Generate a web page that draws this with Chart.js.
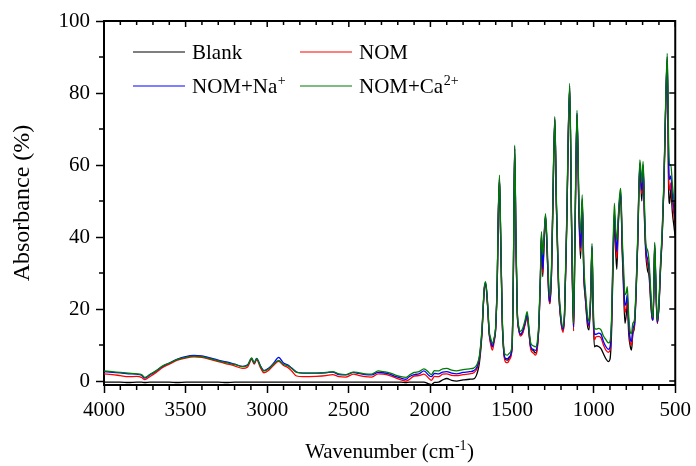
<!DOCTYPE html>
<html>
<head>
<meta charset="utf-8">
<title>FTIR absorbance</title>
<script src="https://cdn.jsdelivr.net/npm/chart.js@4.4.1/dist/chart.umd.min.js"></script>
<style>
  html, body { margin: 0; padding: 0; background: #ffffff; }
  #ftir { display: block; }
</style>
</head>
<body>
<canvas id="ftir" width="696" height="466"></canvas>
<script>
// wavenumber axis (cm-1)
const wavenumbers = [
  4000, 3950, 3900, 3850, 3800, 3770, 3750, 3720, 3680, 3640,
  3600, 3550, 3500, 3450, 3400, 3350, 3300, 3250, 3200, 3150,
  3120, 3095, 3080, 3065, 3040, 3020, 2990, 2960, 2930, 2900,
  2875, 2850, 2820, 2780, 2700, 2640, 2600, 2560, 2520, 2470,
  2440, 2400, 2360, 2320, 2290, 2250, 2210, 2180, 2150, 2130,
  2100, 2070, 2040, 2010, 1995, 1975, 1950, 1925, 1900, 1870,
  1840, 1800, 1760, 1735, 1715, 1700, 1685, 1670, 1662, 1650,
  1640, 1630, 1620, 1610, 1600, 1590, 1585, 1577, 1570, 1560,
  1550, 1540, 1528, 1515, 1500, 1492, 1484, 1476, 1468, 1458,
  1448, 1435, 1420, 1407, 1395, 1385, 1370, 1356, 1345, 1335,
  1326, 1320, 1312, 1304, 1295, 1285, 1275, 1268, 1258, 1250,
  1238, 1228, 1215, 1200, 1188, 1178, 1165, 1147, 1135, 1123,
  1115, 1102, 1090, 1080, 1070, 1060, 1050, 1038, 1028, 1018,
  1010, 1003, 995, 985, 970, 955, 940, 925, 910, 900,
  890, 882, 873, 865, 858, 850, 840, 834, 825, 818,
  808, 800, 794, 785, 775, 768, 760, 750, 740, 730,
  717, 710, 705, 697, 688, 680, 670, 660, 650, 640,
  636, 630, 626, 620, 610, 600, 590, 580, 570, 560,
  549, 540, 534, 527, 518, 508, 500
];

const blank = [
  -0.3, -0.3, -0.3, -0.4, -0.3, -0.3, -0.4, -0.3, -0.3, -0.3,
  -0.3, -0.4, -0.3, -0.3, -0.3, -0.3, -0.3, -0.4, -0.3, -0.3,
  -0.3, -0.3, -0.3, -0.3, -0.3, -0.3, -0.3, -0.3, -0.3, -0.3,
  -0.3, -0.3, -0.3, -0.3, -0.3, -0.3, -0.3, -0.3, -0.3, -0.3,
  -0.3, -0.3, -0.3, -0.3, -0.3, -0.3, -0.3, -0.3, -0.4, -0.3,
  -0.3, -0.3, -0.3, -0.8, -1.0, -0.4, -0.3, 0.3, 0.7, 0.2,
  0.0, 0.3, 0.5, 0.6, 2.0, 5.0, 12.5, 25.5, 27.0, 21,
  13.3, 10.5, 9.5, 11.5, 15, 29, 44, 56, 41, 17,
  8, 6.0, 5.8, 6.6, 9.2, 28.5, 64.5, 38.5, 19, 14.2,
  12.8, 13.5, 16, 18.2, 13, 9.2, 8.5, 7.8, 9.5, 16,
  28.5, 40, 29, 38.5, 45.5, 36, 24, 21.5, 30, 48,
  72.5, 48, 26, 16.5, 14, 18.5, 43, 81.5, 42, 14,
  37, 74, 46, 34, 49.5, 29, 22.5, 15.5, 14.2, 23,
  37, 18.5, 9.5, 9.8, 9.6, 9.0, 7.6, 6.2, 5.4, 6.0,
  14, 30, 44, 36, 31, 42, 50, 51.5, 36, 27,
  16, 18.5, 21.6, 13, 9.5, 8.6, 13, 15, 24, 38,
  59.5, 54, 50, 59, 44, 35, 30.8, 29, 21.5, 17,
  17, 28, 37, 28, 16, 20.5, 31, 40, 53, 73,
  89, 52, 49.3, 53.6, 47, 43, 40
];

const nom = [
  2.0, 1.8, 1.5, 1.2, 1.3, 1.0, 0.4, 1.2, 2.4, 3.8,
  4.7, 5.8, 6.4, 6.7, 6.6, 6.0, 5.4, 4.8, 4.2, 3.5,
  3.9, 6.0, 4.7, 5.9, 3.6, 2.3, 3.0, 4.4, 5.5, 4.3,
  3.8, 2.8, 1.4, 1.2, 1.3, 1.5, 1.8, 1.2, 1.1, 1.9,
  1.6, 1.2, 1.1, 2.0, 1.9, 1.5, 0.8, 0.3, 0.0, 0.4,
  1.4, 1.5, 1.9, 0.8, 0.2, 1.3, 1.2, 1.9, 2.0, 1.6,
  1.5, 1.8, 2.0, 2.3, 3.4, 6.0, 13, 25.5, 27.0, 21,
  13, 10.0, 8.6, 10.8, 14.6, 28.5, 43.5, 56, 40.5, 16.5,
  7.5, 5.3, 5.1, 6.0, 9, 28, 64.5, 38, 19, 14,
  12.5, 13.2, 15.6, 17.9, 12.5, 8.7, 7.8, 7.2, 9, 15.5,
  28.5, 40, 30, 38.5, 45.5, 36, 24, 21.5, 30, 48,
  72.5, 48, 26, 16.5, 13.5, 18.5, 43, 81.5, 42, 14,
  37, 74, 47, 36, 50, 29.5, 22.5, 16.5, 15.2, 23.5,
  37, 19, 11.5, 12.3, 12.4, 12, 10, 8.6, 8.0, 8.5,
  16, 32, 46.5, 38, 34, 43, 50.5, 52, 37, 29,
  19, 20.5, 23, 15, 10.5, 10, 13.5, 15.5, 24.5, 38.5,
  60, 55, 52, 59.5, 45, 36, 32.5, 30, 22.5, 17,
  17, 29, 37.5, 28.5, 16, 21, 31.5, 40.5, 53.5, 73.5,
  89.5, 56, 53, 55, 50, 46, 43
];

const nomNa = [
  2.6, 2.4, 2.3, 2.0, 1.9, 1.6, 0.8, 1.7, 2.8, 4.1,
  5.0, 6.1, 6.8, 7.1, 7.0, 6.4, 5.8, 5.3, 4.7, 4.1,
  4.5, 6.3, 5.0, 6.3, 4.1, 2.9, 3.6, 5.0, 6.6, 5.0,
  4.5, 3.6, 2.5, 2.2, 2.2, 2.3, 2.5, 1.8, 1.7, 2.4,
  2.1, 1.8, 1.7, 2.4, 2.3, 1.9, 1.2, 0.8, 0.5, 1.2,
  1.8, 2.0, 2.8, 1.6, 1.2, 2.1, 2.0, 2.5, 2.6, 2.2,
  2.0, 2.4, 2.6, 2.9, 3.9, 6.5, 13.5, 25.5, 27.3, 21.5,
  13.5, 11.0, 9.6, 11.4, 15, 29, 44, 56.5, 41, 17,
  8, 6.3, 6.2, 6.8, 9.5, 29, 65, 39, 19.5, 14.5,
  13, 13.8, 16.2, 18.5, 13.3, 9.5, 8.8, 8.5, 10, 16,
  29, 40.5, 31, 39, 46, 36.5, 25, 22, 31, 49,
  73, 49, 27, 17, 14.5, 19, 44, 82, 43, 15,
  38, 74.5, 48, 37, 50.5, 30, 23.5, 17, 15.5, 24,
  37.5, 20, 13, 13, 13.3, 13, 11, 9.6, 8.8, 9.3,
  16.5, 33, 47, 40, 36, 44, 51, 52.5, 38, 30,
  21, 22, 24, 16, 11.5, 11, 14.5, 16, 25, 39,
  60.5, 56, 53, 60, 46, 36.5, 34, 31, 23.5, 17,
  17, 29, 38, 29, 16.3, 21, 32, 41, 54, 74,
  90, 60, 56, 57, 52, 48, 45
];

const nomCa = [
  2.8, 2.6, 2.4, 2.2, 2.0, 1.8, 1.0, 1.8, 2.9, 4.2,
  5.0, 6.0, 6.6, 6.9, 6.8, 6.2, 5.6, 5.1, 4.6, 4.0,
  4.4, 6.4, 5.0, 6.2, 4.0, 2.8, 3.4, 4.8, 5.7, 4.6,
  4.3, 3.5, 2.4, 2.2, 2.2, 2.4, 2.6, 2.0, 1.8, 2.5,
  2.3, 2.0, 1.9, 2.8, 2.6, 2.3, 1.6, 1.2, 1.0, 1.6,
  2.4, 2.6, 3.4, 2.4, 1.8, 2.9, 2.8, 3.4, 3.5, 3.0,
  2.8, 3.2, 3.4, 3.6, 4.6, 7.0, 14, 26, 27.6, 22,
  14, 11.8, 10.5, 12, 15.5, 30, 45, 57.2, 42, 18,
  9, 7.3, 7.2, 7.8, 10, 30, 65.5, 40, 20, 15,
  13.8, 14.6, 17, 19.3, 14, 10.5, 9.8, 9.5, 11, 17,
  30, 41.5, 35, 40, 46.5, 38, 27, 23.5, 32, 50,
  73.5, 50, 28, 18, 15, 20, 45, 82.7, 45, 16,
  40, 75.2, 50, 41, 51.7, 32, 25, 18.5, 16.5, 25,
  38.2, 22, 14.7, 14.4, 14.6, 14.2, 12.5, 11.5, 10.6, 11.0,
  18, 35, 49.4, 42, 39, 45, 52, 53.5, 40, 33,
  24, 24.5, 26.2, 18, 13.5, 13.2, 16, 17, 26, 40,
  61.4, 58, 55, 61, 48, 38, 36.4, 33, 25, 18,
  17.6, 30, 38.5, 30, 16.8, 22, 33, 42, 55, 75,
  91, 65, 60, 60, 55, 50, 47
];

const xTicks = [4000, 3500, 3000, 2500, 2000, 1500, 1000, 500];
const yTicks = [0, 20, 40, 60, 80, 100];

const FONT = '"Liberation Serif", "Times New Roman", serif';

function points(values) {
    return wavenumbers.map((w, i) => ({ x: w, y: values[i] }));
}

// text with an optional superscript, returns the width drawn
function supText(ctx, x, y, base, sup, tail, size, draw) {
    const small = Math.round(size * 0.65);
    ctx.font = size + "px " + FONT;
    const w1 = ctx.measureText(base).width;
    ctx.font = small + "px " + FONT;
    const w2 = sup ? ctx.measureText(sup).width : 0;
    ctx.font = size + "px " + FONT;
    const w3 = tail ? ctx.measureText(tail).width : 0;
    if (draw) {
        ctx.fillText(base, x, y);
        if (sup) {
            ctx.font = small + "px " + FONT;
            ctx.fillText(sup, x + w1 + 0.5, y - size * 0.4);
            ctx.font = size + "px " + FONT;
        }
        if (tail) ctx.fillText(tail, x + w1 + w2 + 1, y);
    }
    return w1 + w2 + w3 + 1;
}

const legendItems = [
    { base: "Blank", sup: "", color: "#000000", col: 0, row: 0 },
    { base: "NOM", sup: "", color: "#ff0000", col: 1, row: 0 },
    { base: "NOM+Na", sup: "+", color: "#0000ff", col: 0, row: 1 },
    { base: "NOM+Ca", sup: "2+", color: "#007a00", col: 1, row: 1 }
];

const framePlugin = {
    id: "frame",
    afterDraw(chart) {
        const { ctx, chartArea: a, scales: { x, y } } = chart;
        ctx.save();
        ctx.strokeStyle = "#000";
        ctx.fillStyle = "#000";

        // top and right border
        ctx.lineWidth = 2;
        ctx.beginPath();
        ctx.moveTo(a.left - 1, a.top);
        ctx.lineTo(a.right, a.top);
        ctx.lineTo(a.right, a.bottom + 1);
        ctx.stroke();

        // minor ticks + inner ticks on top / right
        ctx.lineWidth = 1.5;
        ctx.beginPath();
        for (let v = 500; v <= 4000; v += 100) {
            const px = x.getPixelForValue(v);
            const major = v % 500 === 0;
            if (!major) {
                ctx.moveTo(px, a.bottom);
                ctx.lineTo(px, a.bottom + 5);
            }
            ctx.moveTo(px, a.top);
            ctx.lineTo(px, a.top + (major ? 6 : 4));
        }
        for (let v = 0; v <= 100; v += 10) {
            const py = y.getPixelForValue(v);
            const major = v % 20 === 0;
            if (!major) {
                ctx.moveTo(a.left, py);
                ctx.lineTo(a.left - 5, py);
            }
            ctx.moveTo(a.right, py);
            ctx.lineTo(a.right - (major ? 6 : 4), py);
        }
        ctx.stroke();

        // x axis title with superscript
        ctx.textBaseline = "alphabetic";
        ctx.textAlign = "left";
        const tw = supText(ctx, 0, 0, "Wavenumber (cm", "-1", ")", 21, false);
        supText(ctx, (a.left + a.right) / 2 - tw / 2, 458, "Wavenumber (cm", "-1", ")", 21, true);

        // legend, two columns inside the plot
        legendItems.forEach(item => {
            const lx = a.left + 29 + item.col * 167;
            const ly = a.top + 31 + item.row * 34;
            ctx.strokeStyle = item.color;
            ctx.lineWidth = 1.2;
            ctx.beginPath();
            ctx.moveTo(lx, ly);
            ctx.lineTo(lx + 52, ly);
            ctx.stroke();
            ctx.fillStyle = "#000";
            supText(ctx, lx + 59, ly + 7, item.base, item.sup, "", 21, true);
        });
        ctx.restore();
    }
};

const line = (label, values, color, order) => ({
    label: label,
    data: points(values),
    borderColor: color,
    borderWidth: 1.3,
    pointRadius: 0,
    cubicInterpolationMode: "monotone",
    fill: false,
    order: order
});

new Chart(document.getElementById("ftir"), {
    type: "line",
    data: {
        datasets: [
            line("Blank", blank, "#000000", 3),
            line("NOM", nom, "#ff0000", 2),
            line("NOM+Na+", nomNa, "#0000ff", 1),
            line("NOM+Ca2+", nomCa, "#007a00", 0)
        ]
    },
    options: {
        responsive: false,
        devicePixelRatio: 1,
        animation: false,
        events: [],
        layout: { padding: { top: 21, right: 17, left: 0, bottom: 0 } },
        plugins: {
            legend: { display: false },
            tooltip: { enabled: false }
        },
        scales: {
            x: {
                type: "linear",
                reverse: true,
                min: 500,
                max: 4000,
                afterBuildTicks: s => { s.ticks = xTicks.map(v => ({ value: v })); },
                afterFit: s => { s.height = 81; },
                grid: { drawOnChartArea: false, tickLength: 8, tickWidth: 1.5, tickColor: "#000" },
                border: { color: "#000", width: 2 },
                ticks: {
                    color: "#000",
                    font: { family: FONT, size: 21 },
                    padding: 5,
                    maxRotation: 0,
                    autoSkip: false,
                    callback: v => String(v)
                }
            },
            y: {
                min: -1.1,
                max: 100,
                afterBuildTicks: s => { s.ticks = yTicks.map(v => ({ value: v })); },
                afterFit: s => { s.width = 104; },
                grid: { drawOnChartArea: false, tickLength: 8, tickWidth: 1.5, tickColor: "#000" },
                border: { color: "#000", width: 2 },
                ticks: {
                    color: "#000",
                    font: { family: FONT, size: 21 },
                    padding: 6,
                    callback: v => String(v)
                },
                title: {
                    display: true,
                    text: "Absorbance (%)",
                    color: "#000",
                    font: { family: FONT, size: 24 },
                    padding: { top: 8, bottom: 0 }
                }
            }
        }
    },
    plugins: [framePlugin]
});
</script>
</body>
</html>
